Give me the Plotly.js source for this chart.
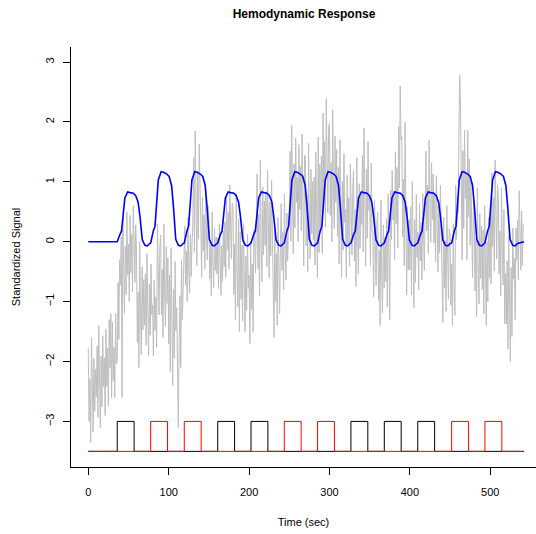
<!DOCTYPE html>
<html>
<head>
<meta charset="utf-8">
<script src="https://cdn.plot.ly/plotly-3.0.1.min.js"></script>
<style>html,body{margin:0;padding:0;background:#fff;}#chart{width:536px;height:534px;}</style>
</head>
<body>
<div id="chart"></div>
<script>
// ---------------- data ----------------
// Gray: measured BOLD signal, one sample per second starting at t = 0
const graySampleSec = 1;
const graySignal = [
  -1.78, -3.0, -2.3, -3.35, -1.6, -2.65, -3.18, -1.95, -2.83, -2.13,
  -2.59, -1.74, -2.93, -1.4, -2.25, -3.1, -1.91, -2.76, -1.57, -2.42,
  -1.94, -2.9, -1.46, -2.42, -1.78, -2.74, -1.3, -2.1, -1.2, -2.6,
  -1.34, -2.32, -1.76, -2.6, -1.2, -2.04, -2.0, -0.68, -1.63, -0.3,
  -0.72, 0.08, -2.6, 0.4, -0.4, -1.2, -0.08, -0.88, 0.5, -0.56,
  -0.04, -1.0, 0.44, -0.52, 0.12, -0.84, 0.6, -0.2, -0.68, 0.28,
  -0.21, -1.68, -0.84, -2.1, 0.0, -1.26, -1.89, -0.42, -1.47, -0.63,
  -1.39, -0.54, -1.73, -0.2, -1.05, -1.9, -0.71, -1.56, -0.37, -1.22,
  -1.06, -1.9, -0.64, -1.48, -0.92, -1.76, 0.3, -0.65, -1.22, -0.08,
  0.11, -1.22, -0.46, -1.6, 0.3, -0.84, -1.41, -0.08, -1.03, -0.27,
  -1.71, -0.56, -2.17, -0.1, -1.25, -2.4, -0.79, -1.94, -0.33, -1.48,
  -1.1, -2.3, -3.1, -1.7, -0.9, -2.1, -0.3, -1.3, -0.72, 0.12,
  0.26, -0.72, -0.16, -1.0, 0.4, -0.44, -0.86, 0.12, -0.58, -0.02,
  0.28, 1.4, -0.18, 1.85, 0.73, -0.4, 1.18, 0.05, 1.63, 0.5,
  0.3, -0.6, 0.75, -0.15, 0.45, -0.45, 0.9, 0.15, -0.3, 0.6,
  0.36, -0.62, -0.06, -0.9, 0.5, -0.34, -0.76, 0.22, -0.48, 0.08,
  -0.54, 0.06, -0.78, 0.3, -0.3, -0.9, -0.06, -0.66, 0.18, -0.42,
  0.33, -0.6, 0.8, -0.14, 0.49, -0.45, 0.95, 0.18, -0.29, 0.64,
  0.59, -0.88, -0.04, -1.3, 0.8, -0.46, -1.09, 0.38, -1.5, 0.17,
  -0.96, -0.06, -1.32, 0.3, -0.6, -1.5, -0.24, -1.14, 0.12, -0.78,
  -0.56, -1.7, 0.01, -1.13, -0.37, -1.51, 0.2, 0.05, -0.52, 0.62,
  1.13, -0.45, 0.46, -0.9, 1.36, 0.0, -0.67, 0.91, -0.22, 0.68,
  -0.06, 0.84, -0.42, 1.2, 0.3, -0.6, 0.66, -0.24, 1.02, 0.12,
  -0.4, -1.6, 0.2, -1.0, -0.2, -1.4, 0.4, -0.6, -1.2, 0.0,
  0.64, -0.48, 0.16, -0.8, 0.8, -0.16, -0.64, 0.48, -0.32, 0.32,
  0.44, 1.51, 0.01, 1.94, 0.87, -0.2, 1.3, 0.23, 1.73, 0.66,
  1.08, 0.0, 1.62, 0.54, 1.26, 0.18, 1.8, 0.9, -0.4, 1.44,
  1.43, -0.07, 0.78, -0.5, 1.64, 0.36, -0.29, 1.21, 0.14, 1.0,
  0.03, 1.08, -0.39, 1.5, 0.45, -0.6, 1.75, -0.18, 1.29, 0.24,
  1.43, -0.2, 2.15, 0.72, 1.67, 0.24, 2.39, 1.2, 0.48, 1.91,
  1.98, 0.44, 1.32, 0.0, 2.2, 0.88, 0.22, 1.76, 0.66, 1.54,
  0.09, 1.24, -0.37, 1.7, 0.55, -0.6, 1.01, -0.14, 1.47, 0.32,
  0.54, -0.6, 1.11, -0.03, 0.73, -0.41, 1.3, 0.35, -0.22, 0.92,
  1.19, -0.32, 0.54, -0.75, 1.4, 0.11, -0.54, 0.97, -0.11, 0.76,
  0.29, 1.44, -0.17, 1.9, 0.75, -0.4, 1.21, 0.06, 1.67, 0.52,
  0.74, -0.4, 1.31, 0.17, 0.16, -0.92, 0.7, -0.2, -0.74, 0.34,
  0.49, -0.98, -0.14, -1.4, 0.7, -0.56, -1.19, 0.28, -0.77, 0.07,
  -0.67, 0.38, -1.09, 0.8, -0.25, -1.3, 0.86, 0.03, 1.19, 0.36,
  0.84, -0.3, 1.5, 0.3, 1.24, -0.1, 1.92, 0.9, 2.6, 1.7,
  1.76, 0.08, 1.04, -0.4, 2.0, 0.56, -0.89, 0.58, -0.47, 0.37,
  -0.47, 0.58, -0.89, 1.0, -0.05, -1.1, 0.37, -0.68, 0.79, -0.26,
  0.16, -0.8, 0.64, -0.32, 0.32, -0.64, 0.8, 0.0, -0.48, 0.48,
  1.51, 0.18, 0.94, -0.2, 1.7, 0.56, -0.01, 1.32, 0.37, 1.13,
  -0.02, 0.78, -0.34, 1.1, 0.3, -0.5, 0.62, -0.18, 0.94, 0.14,
  -0.18, -1.35, 0.41, -0.77, 0.02, -1.16, 0.6, -0.38, -0.96, 0.21,
  0.13, -1.06, -0.38, -1.4, 0.3, -0.72, -1.23, 0.94, 0.04, 0.76,
  0.48, 1.78, 2.78, 2.3, 1.0, -0.3, 1.52, 0.22, 1.86, 0.72,
  1.14, -0.3, 1.86, 0.42, 1.38, -0.06, 1.0, 0.0, -0.6, 0.6,
  0.69, -0.82, 0.04, -1.25, 0.9, -0.39, -1.04, 0.47, -0.61, 0.26,
  -0.8, 0.2, -1.2, 0.6, -0.4, -1.4, 0.0, -1.0, 0.4, -0.6,
  0.54, -0.7, 1.15, -0.08, 0.74, -0.49, 1.36, 0.33, -0.29, 0.95,
  0.72, -0.54, 0.18, -0.9, 0.9, -0.18, -0.72, 0.54, -1.37, -0.53,
  -1.37, -0.32, -1.79, 0.1, -0.95, -2.0, -0.43, -1.58, 0.23, -0.62,
  -0.28, -1.3, 0.23, -0.31, 0.36, -0.64, 0.85, 0.03, -0.47, 0.52,
  -0.4, 0.3
];

// Blue: predicted hemodynamic response (time in sec, value)
const blueTime = [
  0, 36, 39.3, 41.4, 45.5, 49, 52, 56, 59, 62, 64.3, 67.2, 70.5, 73.5, 76.5,
  77.6, 80.9, 83, 87.1, 90.6, 93.6, 97.6, 100.6, 103.6, 105.9, 108.8, 112.1, 115.1, 118.1,
  119.4, 122.7, 124.8, 128.9, 132.4, 135.4, 139.4, 142.4, 145.4, 147.7, 150.6, 153.9, 156.9, 159.9,
  161, 164.3, 166.4, 170.5, 174, 177, 181, 184, 187, 189.3, 192.2, 195.5, 198.5, 201.5,
  202.4, 205.7, 207.8, 211.9, 215.4, 218.4, 222.4, 225.4, 228.4, 230.7, 233.6, 236.9, 239.9, 242.9,
  243.8, 247.1, 249.2, 253.3, 256.8, 259.8, 263.8, 266.8, 269.8, 272.1, 275, 278.3, 281.3, 284.3,
  285.2, 288.5, 290.6, 294.7, 298.2, 301.2, 305.2, 308.2, 311.2, 313.5, 316.4, 319.7, 322.7, 325.7,
  326.7, 330, 332.1, 336.2, 339.7, 342.7, 346.7, 349.7, 352.7, 355, 357.9, 361.2, 364.2, 367.2,
  368.2, 371.5, 373.6, 377.7, 381.2, 384.2, 388.2, 391.2, 394.2, 396.5, 399.4, 402.7, 405.7, 408.7,
  409.8, 413.1, 415.2, 419.3, 422.8, 425.8, 429.8, 432.8, 435.8, 438.1, 441, 444.3, 447.3, 450.3,
  452, 455.3, 457.4, 461.5, 465, 468, 472, 475, 478, 480.3, 483.2, 486.5, 489.5, 492.5,
  493.4, 496.7, 498.8, 502.9, 506.4, 509.4, 513.4, 516.4, 519.4, 521.7, 524.6, 527.9, 530.9, 533.9, 542
];
const blueValue = [
  0, 0, 0.12, 0.18, 0.73, 0.83, 0.82, 0.81, 0.77, 0.66, 0.42, 0.03, -0.06, -0.07, -0.03,
  -0.02, 0.18, 0.26, 1.03, 1.17, 1.16, 1.13, 1.09, 0.94, 0.59, 0.04, -0.06, -0.07, -0.03,
  -0.02, 0.18, 0.26, 1.03, 1.17, 1.16, 1.13, 1.09, 0.94, 0.59, 0.04, -0.06, -0.07, -0.03,
  -0.02, 0.12, 0.18, 0.73, 0.83, 0.82, 0.81, 0.77, 0.66, 0.42, 0.03, -0.06, -0.07, -0.03,
  -0.02, 0.12, 0.18, 0.73, 0.83, 0.82, 0.81, 0.77, 0.66, 0.42, 0.03, -0.06, -0.07, -0.03,
  -0.02, 0.18, 0.26, 1.03, 1.17, 1.16, 1.13, 1.09, 0.94, 0.59, 0.04, -0.06, -0.07, -0.03,
  -0.02, 0.18, 0.26, 1.03, 1.17, 1.16, 1.13, 1.09, 0.94, 0.59, 0.04, -0.06, -0.07, -0.03,
  -0.02, 0.12, 0.18, 0.73, 0.83, 0.82, 0.81, 0.77, 0.66, 0.42, 0.03, -0.06, -0.07, -0.03,
  -0.02, 0.12, 0.18, 0.73, 0.83, 0.82, 0.81, 0.77, 0.66, 0.42, 0.03, -0.06, -0.07, -0.03,
  -0.02, 0.12, 0.18, 0.73, 0.83, 0.82, 0.81, 0.77, 0.66, 0.42, 0.03, -0.06, -0.07, -0.03,
  -0.02, 0.18, 0.26, 1.03, 1.17, 1.16, 1.13, 1.09, 0.94, 0.59, 0.04, -0.06, -0.07, -0.03,
  -0.02, 0.18, 0.26, 1.03, 1.17, 1.16, 1.13, 1.09, 0.94, 0.59, 0.04, -0.06, -0.07, -0.03, 0.0
];

// Stimulus blocks (onset seconds) for the two conditions
const blackOnsets = [36, 161, 202.4, 326.7, 368.2, 409.8];
const redOnsets = [77.6, 119.4, 243.8, 285.2, 452, 493.4];
const blockDuration = 21;
const stimBaseline = -3.5;
const stimTop = -3.0;
const runEnd = 542;

// ---------------- build traces ----------------
const grayTime = graySignal.map((_, i) => i * graySampleSec);

function boxcar(onsets) {
  const xs = [0], ys = [stimBaseline];
  onsets.forEach(s => {
    xs.push(s, s, s + blockDuration, s + blockDuration);
    ys.push(stimBaseline, stimTop, stimTop, stimBaseline);
  });
  xs.push(runEnd); ys.push(stimBaseline);
  return {xs, ys};
}
const blk = boxcar(blackOnsets);
const red = boxcar(redOnsets);

const traces = [
  {x: grayTime, y: graySignal, type: 'scatter', mode: 'lines',
   line: {color: '#BEBEBE', width: 1}, hoverinfo: 'skip'},
  {x: blueTime, y: blueValue, type: 'scatter', mode: 'lines',
   line: {color: '#0000FF', width: 1.6}},
  {x: blk.xs, y: blk.ys, type: 'scatter', mode: 'lines',
   line: {color: '#000000', width: 1}},
  {x: red.xs, y: red.ys, type: 'scatter', mode: 'lines',
   line: {color: '#FF0000', width: 1}}
];

const font = {family: 'Liberation Sans, Arial, Helvetica, sans-serif', color: '#000'};
const layout = {
  width: 536, height: 534,
  margin: {l: 71, r: 0, t: 47, b: 67, pad: 0},
  paper_bgcolor: '#fff', plot_bgcolor: '#fff',
  showlegend: false,
  font: Object.assign({size: 11}, font),
  title: {text: '<b>Hemodynamic Response</b>', font: Object.assign({size: 12}, font),
          x: 304 / 536, xanchor: 'center', y: 1 - 14 / 534, yanchor: 'middle'},
  xaxis: {
    range: [-21.5, 556.9], tickvals: [0, 100, 200, 300, 400, 500],
    showline: true, linecolor: '#000', linewidth: 1, mirror: false,
    ticks: 'outside', ticklen: 7, tickcolor: '#000', tickwidth: 1,
    showgrid: false, zeroline: false, ticklabelstandoff: 8,
    tickfont: Object.assign({size: 11}, font),
    title: {text: 'Time (sec)', font: Object.assign({size: 11}, font), standoff: 21},
    automargin: false
  },
  yaxis: {
    range: [-3.761, 3.251], tickvals: [-3, -2, -1, 0, 1, 2, 3],
    showline: true, linecolor: '#000', linewidth: 1, mirror: false,
    ticks: 'outside', ticklen: 7, tickcolor: '#000', tickwidth: 1,
    showgrid: false, zeroline: false, tickangle: -90, ticklabelstandoff: 5,
    tickfont: Object.assign({size: 11}, font),
    title: {text: 'Standardized Signal', font: Object.assign({size: 11}, font), standoff: 20},
    automargin: false
  }
};

Plotly.newPlot('chart', traces, layout, {staticPlot: true, displayModeBar: false});
</script>
</body>
</html>
